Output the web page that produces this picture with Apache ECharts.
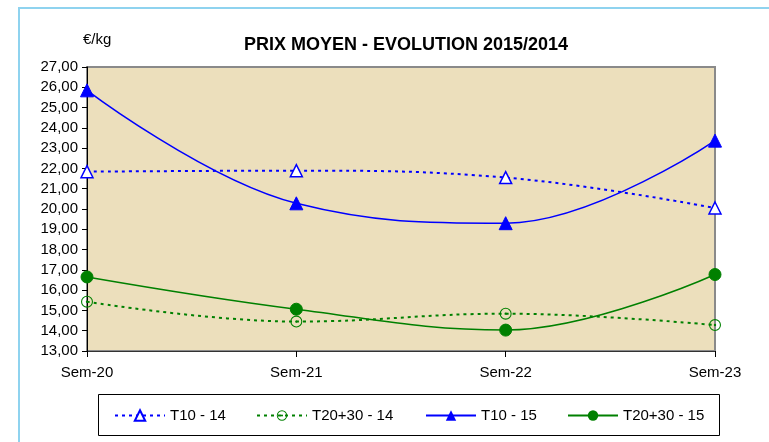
<!DOCTYPE html>
<html>
<head>
<meta charset="utf-8">
<script src="https://cdn.jsdelivr.net/npm/echarts@6/dist/echarts.min.js"></script>
<style>html,body{margin:0;padding:0;background:#fff;}#c{width:769px;height:442px;}</style>
</head>
<body>
<div id="c"></div>
<script>
var categories = ['Sem-20', 'Sem-21', 'Sem-22', 'Sem-23'];
var t10_14 = [21.84, 21.89, 21.55, 20.05];
var t2030_14 = [15.43, 14.45, 14.84, 14.28];
var t10_15 = [25.85, 20.28, 19.30, 23.37];
var t2030_15 = [16.65, 15.06, 14.03, 16.77];
var seriesNames = ['T10 - 14', 'T20+30 - 14', 'T10 - 15', 'T20+30 - 15'];
var yTicks = {min: 13, max: 27, interval: 1};

var chart = echarts.init(document.getElementById('c'), null, {renderer: 'canvas'});
var FONT = 'Liberation Sans, Arial, sans-serif';
var BLUE = '#0000ff', GREEN = '#008000';
var RING_DOT = 'path://M0,-6A6,6 0 1,1 0,6A6,6 0 1,1 0,-6Z M0,-4.9A4.9,4.9 0 1,0 0,4.9A4.9,4.9 0 1,0 0,-4.9Z M0,-1.2A1.2,1.2 0 1,1 0,1.2A1.2,1.2 0 1,1 0,-1.2Z';

function legendAt(name, left) {
  return {
    data: [name], left: left, top: 408, padding: 0,
    itemWidth: 50, itemHeight: 13, itemGap: 4,
    textStyle: {fontFamily: FONT, fontSize: 15, color: '#000'}
  };
}

var option = {
  backgroundColor: '#ffffff',
  animation: false,
  title: {
    text: 'PRIX MOYEN - EVOLUTION 2015/2014',
    left: 401, textAlign: 'center', top: 31,
    textStyle: {fontFamily: FONT, fontSize: 18, fontWeight: 'bold', color: '#000'}
  },
  graphic: [
    {type: 'rect', shape: {x: 19, y: 8, width: 800, height: 500}, style: {fill: 'none', stroke: '#8fd3ef', lineWidth: 2}, z: -1},
    {type: 'rect', shape: {x: 98.5, y: 394.5, width: 621, height: 41}, style: {fill: '#fff', stroke: '#000', lineWidth: 1}, z: 0},
    {type: 'text', left: 83, top: 32, style: {text: '€/kg', font: '15px ' + FONT, fill: '#000'}}
  ],
  legend: [
    legendAt(seriesNames[0], 114),
    legendAt(seriesNames[1], 256),
    legendAt(seriesNames[2], 425),
    legendAt(seriesNames[3], 567)
  ],
  grid: {
    left: 87, right: 54, top: 67, bottom: 91,
    show: true, backgroundColor: '#ecdfbc', borderColor: '#8a8a8a', borderWidth: 2
  },
  xAxis: {
    type: 'category', data: categories, boundaryGap: false,
    axisLine: {lineStyle: {color: '#333', width: 1}},
    axisTick: {show: true, length: 6, lineStyle: {color: '#000'}},
    axisLabel: {fontFamily: FONT, fontSize: 15, color: '#000', margin: 14, showMinLabel: true, showMaxLabel: true},
    splitLine: {show: false}
  },
  yAxis: {
    type: 'value', min: yTicks.min, max: yTicks.max, interval: yTicks.interval,
    axisLine: {show: true, lineStyle: {color: '#000', width: 1}},
    axisTick: {show: true, length: 5, lineStyle: {color: '#000'}},
    axisLabel: {fontFamily: FONT, fontSize: 15, color: '#000', margin: 9,
      formatter: function (v) { return v.toFixed(2).replace('.', ','); }},
    splitLine: {show: false}
  },
  series: [
    {name: seriesNames[0], type: 'line', data: t10_14, smooth: 0.4,
      symbol: 'triangle', symbolSize: 12,
      lineStyle: {color: BLUE, width: 2, type: [3, 4]},
      itemStyle: {color: '#ffffff', borderColor: BLUE, borderWidth: 1.5}},
    {name: seriesNames[1], type: 'line', data: t2030_14, smooth: 0.4,
      symbol: RING_DOT, symbolSize: 12,
      lineStyle: {color: GREEN, width: 2, type: [3, 4]},
      itemStyle: {color: GREEN, borderColor: GREEN, borderWidth: 0}},
    {name: seriesNames[2], type: 'line', data: t10_15, smooth: 0.4,
      symbol: 'triangle', symbolSize: 13,
      lineStyle: {color: BLUE, width: 1.5, type: 'solid'},
      itemStyle: {color: BLUE, borderColor: BLUE}},
    {name: seriesNames[3], type: 'line', data: t2030_15, smooth: 0.4,
      symbol: 'circle', symbolSize: 12,
      lineStyle: {color: GREEN, width: 1.5, type: 'solid'},
      itemStyle: {color: GREEN, borderColor: GREEN}}
  ]
};
chart.setOption(option);
</script>
</body>
</html>
